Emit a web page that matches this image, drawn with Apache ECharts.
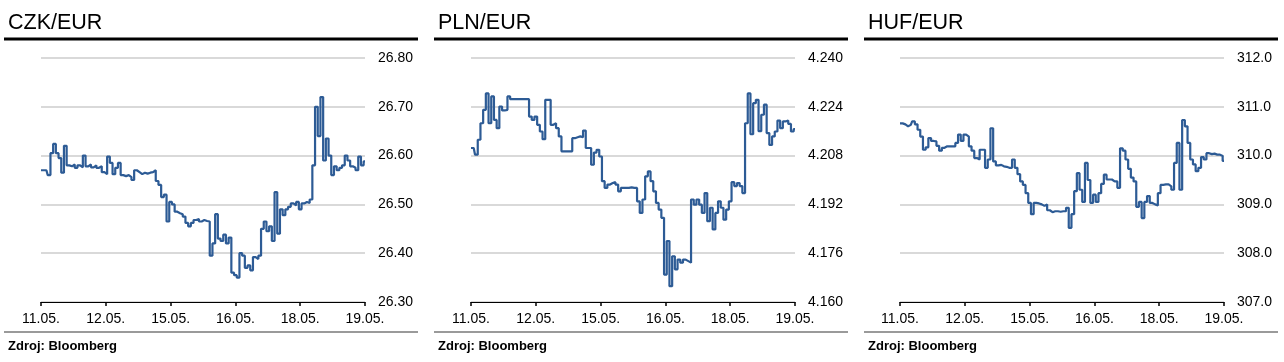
<!DOCTYPE html>
<html>
<head>
<meta charset="utf-8">
<script src="https://cdn.jsdelivr.net/npm/echarts@6/dist/echarts.min.js"></script>
<style>
html,body{margin:0;padding:0;background:#fff;}
#c{width:1284px;height:362px;}
</style>
</head>
<body>
<div id="c"></div>
<script>
var tickLabels = ['11.05.', '12.05.', '15.05.', '16.05.', '18.05.', '19.05.'];
var titles = ['CZK/EUR', 'PLN/EUR', 'HUF/EUR'];
var sourceText = 'Zdroj: Bloomberg';

var czk = [26.570,26.570,26.570,26.560,26.605,26.624,26.605,26.595,26.565,26.620,
26.580,26.578,26.582,26.575,26.580,26.576,26.600,26.578,26.582,26.576,
26.580,26.575,26.578,26.566,26.562,26.598,26.585,26.562,26.575,26.585,
26.560,26.558,26.560,26.556,26.550,26.570,26.566,26.562,26.565,26.563,
26.565,26.566,26.570,26.548,26.540,26.515,26.520,26.465,26.505,26.500,
26.485,26.482,26.480,26.475,26.462,26.455,26.462,26.468,26.470,26.465,
26.468,26.466,26.465,26.395,26.420,26.480,26.430,26.425,26.438,26.420,
26.432,26.360,26.355,26.350,26.400,26.395,26.370,26.375,26.365,26.392,
26.388,26.395,26.450,26.465,26.445,26.455,26.425,26.525,26.440,26.490,
26.478,26.490,26.495,26.502,26.498,26.505,26.490,26.502,26.505,26.503,
26.510,26.580,26.700,26.640,26.720,26.590,26.635,26.600,26.560,26.578,
26.570,26.575,26.580,26.600,26.590,26.578,26.575,26.570,26.598,26.580,26.588];

var pln = [4.2105,4.2105,4.2083,4.2132,4.2186,4.2230,4.2284,4.2186,4.2274,4.2197,
4.2170,4.2241,4.2228,4.2230,4.2274,4.2265,4.2265,4.2265,4.2265,4.2265,
4.2265,4.2265,4.2208,4.2197,4.2208,4.2181,4.2159,4.2134,4.2263,4.2263,
4.2181,4.2186,4.2170,4.2143,4.2094,4.2094,4.2094,4.2094,4.2137,4.2140,
4.2143,4.2140,4.2162,4.2105,4.2105,4.2050,4.2090,4.2099,4.2077,4.1996,
4.1974,4.1985,4.1990,4.1993,4.1985,4.1963,4.1974,4.1974,4.1974,4.1976,
4.1974,4.1974,4.1930,4.1892,4.1936,4.2012,4.2028,4.1996,4.1963,4.1925,
4.1903,4.1876,4.1690,4.1800,4.1652,4.1750,4.1707,4.1739,4.1729,4.1739,
4.1734,4.1729,4.1936,4.1919,4.1936,4.1919,4.1892,4.1957,4.1865,4.1909,
4.1838,4.1892,4.1930,4.1909,4.1870,4.1903,4.1930,4.1993,4.1980,4.1990,
4.1980,4.1957,4.2186,4.2284,4.2150,4.2252,4.2263,4.2160,4.2214,4.2247,
4.2154,4.2115,4.2143,4.2159,4.2195,4.2170,4.2192,4.2195,4.2184,4.2159,4.2167];

var huf = [310.66,310.66,310.64,310.60,310.63,310.70,310.64,310.53,310.39,310.12,
310.17,310.36,310.30,310.29,310.20,310.10,310.16,310.19,310.19,310.19,
310.19,310.26,310.43,310.30,310.43,310.39,310.19,310.10,309.95,309.92,
310.12,310.12,309.75,309.92,310.56,309.88,309.80,309.81,309.78,309.77,
309.75,309.75,309.92,309.75,309.62,309.47,309.40,309.23,309.03,308.80,
309.03,309.02,309.00,308.97,309.00,308.88,308.84,308.86,308.86,308.85,
308.86,308.86,308.93,308.52,308.80,309.27,309.64,309.30,309.05,309.85,
309.50,309.03,309.20,309.05,309.23,309.42,309.61,309.51,309.51,309.47,
309.47,309.34,310.15,310.10,309.92,309.73,309.55,309.47,308.95,309.05,
308.72,309.05,309.17,309.03,309.00,308.98,309.23,309.40,309.41,309.41,
309.37,309.30,309.85,310.26,309.30,310.73,310.60,310.26,309.92,309.82,
309.68,309.75,309.97,309.92,310.05,310.03,310.04,310.02,310.02,309.99,309.89];

var yMin = [26.30, 4.160, 307.0];
var yMax = [26.80, 4.240, 312.0];
var yStep = [0.1, 0.016, 1.0];
var yDecimals = [2, 3, 1];

var seriesData = [czk, pln, huf];
var perDay = 24;
var cats = czk.map(function (v, i) { return String(i); });

var FONT = '"Liberation Sans", Arial, sans-serif';
var offsets = [0, 430, 860];
var gridLefts = [41, 471, 900];

var chart = echarts.init(document.getElementById('c'), null, {renderer: 'canvas'});

var grids = [], xAxes = [], yAxes = [], series = [], title = [], graphic = [];
function showTick(index) { return index % perDay === 0; }

for (var k = 0; k < 3; k++) {
  grids.push({left: gridLefts[k], top: 58, width: 324, height: 244, containLabel: false});
  xAxes.push({
    type: 'category', gridIndex: k, data: cats, boundaryGap: false,
    axisLine: {show: true, lineStyle: {color: '#000', width: 1}},
    axisTick: {show: true, interval: showTick, length: 4, lineStyle: {color: '#000', width: 1.5}},
    axisLabel: {
      interval: showTick, color: '#000', fontSize: 14, fontFamily: FONT, margin: 10,
      formatter: function (v, idx) { return tickLabels[Math.round(Number(v) / perDay)]; }
    },
    splitLine: {show: false}
  });
  (function (kk) {
    yAxes.push({
      type: 'value', gridIndex: kk, position: 'right',
      min: yMin[kk], max: yMax[kk], interval: yStep[kk],
      axisLine: {show: false}, axisTick: {show: false},
      axisLabel: {
        color: '#000', fontSize: 14, fontFamily: FONT, margin: 13,
        formatter: function (v) { return v.toFixed(yDecimals[kk]); }
      },
      splitLine: {show: true, lineStyle: {color: '#d9d9d9', width: 2}}
    });
  })(k);
  series.push({
    type: 'line', xAxisIndex: k, yAxisIndex: k, data: seriesData[k],
    showSymbol: false, symbol: 'none', smooth: false, step: 'middle',
    lineStyle: {color: '#2d5b95', width: 2.2}, z: 5
  });
  title.push({
    text: titles[k], left: offsets[k] + 8, top: 12, padding: 0,
    textStyle: {fontSize: 21.5, fontWeight: 'normal', color: '#000', fontFamily: FONT}
  });
  title.push({
    text: sourceText, left: offsets[k] + 8, top: 340, padding: 0,
    textStyle: {fontSize: 13, fontWeight: 'bold', color: '#000', fontFamily: FONT}
  });
  graphic.push({
    type: 'rect', shape: {x: offsets[k] + 4, y: 37.5, width: 414, height: 3},
    style: {fill: '#000'}, silent: true
  });
  graphic.push({
    type: 'rect', shape: {x: offsets[k] + 4, y: 331, width: 414, height: 2},
    style: {fill: '#9a9a9a'}, silent: true
  });
}

chart.setOption({
  animation: false,
  backgroundColor: '#fff',
  title: title,
  grid: grids,
  xAxis: xAxes,
  yAxis: yAxes,
  series: series,
  graphic: graphic
});
</script>
</body>
</html>
